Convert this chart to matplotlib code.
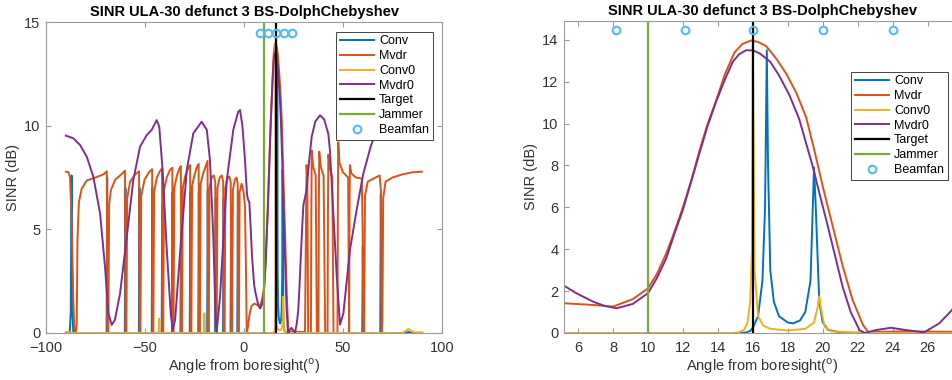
import matplotlib
matplotlib.use('Agg')
import matplotlib.pyplot as plt

# ---- data (angle in degrees, SINR in dB) ----
TITLE = 'SINR ULA-30 defunct 3 BS-DolphChebyshev'

CONV_X = [-90.0, -88.0, -87.5, -87.1, -86.7, -86.2,
          -69.4, -69.1, -68.8, -60.2, -59.9, -59.6, -53.1, -52.8, -52.5,
          -46.6, -46.3, -46.0, -41.6, -41.3, -41.0, -36.4, -36.1, -35.8,
          -32.1, -31.8, -31.5, -27.4, -27.1, -26.8, -23.1, -22.8, -22.5,
          -18.6, -18.3, -18.0, -14.6, -14.3, -14.0, -10.6, -10.3, -10.0,
          -6.8, -6.5, -6.2, -3.4, -3.1, -2.8,
          15.2, 15.6, 15.85, 16.0, 16.3, 16.55, 16.7, 16.8, 16.87, 17.0, 17.2, 17.5,
          18.0, 18.3, 18.7, 19.0, 19.3, 19.5, 19.6, 19.8, 20.0, 20.3, 21.0, 22.0,
          59.7, 60.0, 60.3, 68.8, 69.1, 69.4, 81.0, 83.0, 85.0, 90.0]
CONV_Y = [0.0, 0.05, 1.0, 7.6, 1.0, 0.0,
          0.0, 7.5, 0.0, 0.0, 7.0, 0.0, 0.0, 7.0, 0.0,
          0.0, 7.0, 0.0, 0.0, 6.2, 0.0, 0.0, 6.8, 0.0,
          0.0, 6.0, 0.0, 0.0, 6.8, 0.0, 0.0, 6.8, 0.0,
          0.0, 6.9, 0.0, 0.0, 6.5, 0.0, 0.0, 6.5, 0.0,
          0.0, 5.9, 0.0, 0.0, 5.7, 0.0,
          0.0, 0.02, 0.1, 0.25, 0.8, 2.5, 6.0, 13.5, 8.0, 3.0, 1.5, 0.8,
          0.5, 0.46, 0.6, 1.0, 2.5, 7.9, 6.0, 1.5, 0.5, 0.15, 0.03, 0.0,
          0.0, 4.2, 0.0, 0.0, 6.7, 0.0, 0.0, 0.05, 0.0, 0.0]

MVDR_X = [-90.0, -88.6, -87.9, -87.0, -86.2, -85.6, -85.0, -84.5, -84.1, -83.4, -82.0,
          -79.5, -75.0, -71.0, -69.3, -69.0, -68.5, -68.1, -67.2, -65.0, -62.0,
          -60.1, -59.8, -59.4, -59.0, -57.5, -55.0, -53.0, -52.7, -52.3, -51.9,
          -50.2, -48.0, -46.4, -46.2, -45.8, -45.4, -44.0, -42.5, -41.4, -41.2,
          -40.8, -40.4, -39.0, -37.5, -36.2, -36.0, -35.6, -35.2, -34.0, -32.8,
          -31.9, -31.7, -31.3, -30.9, -29.6, -28.2, -27.2, -27.0, -26.6, -26.2,
          -24.9, -23.8, -22.9, -22.7, -22.3, -21.9, -20.6, -19.3, -18.4, -18.2,
          -17.8, -17.4, -16.4, -15.3, -14.5, -14.2, -13.8, -13.4, -12.3, -11.2,
          -10.5, -10.2, -9.8, -9.4, -8.4, -7.4, -6.7, -6.4, -6.0, -5.6, -4.6,
          -3.7, -3.2, -3.0, -2.6, -2.2, -1.2, -0.2, 0.5, 1.0, 1.4, 2.0, 2.8,
          3.8, 5.2, 6.0, 6.86, 8.0, 9.14, 10.0, 10.5, 11.05, 11.5, 12.0, 12.5,
          12.95, 13.4, 13.9, 14.4, 14.95, 15.4, 15.9, 16.3, 16.76, 17.3, 17.9,
          18.5, 19.05, 19.5, 20.0, 20.6, 21.14, 21.7, 22.3, 22.6, 25.0, 28.0,
          30.8, 31.3, 31.6, 32.0, 32.4, 33.8, 34.0, 34.2, 35.0, 36.2, 36.8,
          37.6, 37.8, 38.0, 38.8, 40.2, 41.0, 42.2, 42.4, 42.6, 43.5, 44.6,
          45.2, 47.2, 47.4, 47.6, 48.2, 50.0, 52.6, 53.1, 53.3, 53.5, 54.2,
          56.5, 59.5, 59.9, 60.3, 60.7, 61.1, 62.5, 65.5, 68.5, 69.2, 69.5,
          69.9, 70.3, 71.5, 75.0, 80.0, 85.0, 89.8]
MVDR_Y = [7.78, 7.75, 7.5, 5.5, 1.5, 0.1, 0.0, 0.4, 4.5, 6.3, 6.95,
          7.35, 7.5, 7.65, 7.8, 0.0, 0.0, 6.2, 6.9, 7.4, 7.65,
          7.83, 0.0, 0.0, 6.5, 7.3, 7.65, 7.8, 0.0, 0.0, 6.6,
          7.4, 7.75, 7.9, 0.0, 0.0, 6.8, 7.5, 7.8, 7.94, 0.0,
          0.0, 6.9, 7.5, 7.85, 7.97, 0.0, 0.0, 7.0, 7.55, 7.9,
          8.05, 0.0, 0.0, 7.0, 7.6, 7.95, 8.1, 0.0, 0.0, 7.1,
          7.65, 8.0, 8.15, 0.0, 0.0, 7.2, 7.7, 8.05, 8.3, 0.0,
          0.0, 7.0, 7.5, 7.6, 7.3, 0.0, 0.0, 7.0, 7.5, 7.6,
          7.3, 0.0, 0.0, 7.0, 7.45, 7.55, 7.25, 0.0, 0.0, 6.9, 7.4,
          7.5, 7.2, 0.0, 0.0, 6.8, 7.2, 6.8, 6.1, 3.0, 0.0, 0.3, 0.9,
          1.3, 1.42, 1.38, 1.34, 1.26, 1.62, 2.13, 2.8, 3.8, 4.8, 6.0, 7.35,
          8.7, 9.95, 11.1, 12.35, 13.4, 13.8, 13.97, 13.9, 13.7, 13.15, 12.4,
          11.45, 10.3, 8.8, 7.0, 5.0, 3.2, 1.6, 0.38, 0.05, 0.08, 0.05,
          0.05, 5.0, 8.1, 7.2, 0.0, 0.0, 5.5, 8.8, 8.0, 7.6, 0.0,
          0.0, 6.0, 8.75, 8.0, 7.6, 0.0, 0.0, 5.8, 8.6, 7.9, 7.5,
          0.0, 0.0, 6.0, 9.2, 8.2, 7.75, 7.5, 0.0, 6.0, 8.1, 7.7,
          7.5, 7.45, 5.0, 0.0, 0.0, 6.6, 7.3, 7.45, 7.6, 6.8, 0.0,
          0.5, 6.5, 7.3, 7.5, 7.65, 7.75, 7.78]

CONV0_X = [-90.0, -88.0, -86.0, -43.2, -42.9, -42.6, -20.3, -20.0, -19.7,
           14.8, 15.2, 15.5, 15.7, 15.85, 15.95, 16.0, 16.1, 16.3, 16.6, 17.0,
           18.0, 19.0, 19.5, 19.7, 19.8, 19.9, 20.1, 20.5, 22.0, 24.0,
           80.0, 82.0, 83.0, 84.0, 86.0, 90.0]
CONV0_Y = [0.05, 0.03, 0.0, 0.0, 0.7, 0.0, 0.0, 0.95, 0.0,
           0.0, 0.03, 0.15, 0.5, 1.5, 4.0, 13.9, 3.0, 0.8, 0.35, 0.2,
           0.12, 0.2, 0.5, 1.2, 1.75, 1.2, 0.3, 0.08, 0.02, 0.0,
           0.0, 0.12, 0.2, 0.12, 0.03, 0.03]

MVDR0_X = [-90.0, -86.2, -82.8, -79.4, -76.1, -72.7, -70.2, -68.5, -66.8, -65.2,
           -62.6, -59.2, -55.9, -52.5, -49.1, -46.6, -44.1, -42.8, -41.1, -39.1,
           -37.0, -36.0, -34.8, -32.3, -28.9, -25.6, -21.4, -18.8, -17.2, -15.5,
           -14.3, -13.8, -12.1, -8.7, -5.4, -2.9, -2.0, -0.8, 0.5, 1.5, 2.0,
           2.7, 3.3, 4.0, 4.7, 5.2, 5.9, 6.86, 7.5, 8.2, 9.14, 10.0, 10.5,
           11.05, 11.5, 12.0, 12.5, 12.95, 13.4, 13.9, 14.4, 14.86, 15.2, 15.6,
           16.0, 16.4, 17.0, 17.5, 18.1, 18.66, 19.0, 19.43, 19.8, 20.2, 20.7,
           21.14, 21.6, 22.1, 22.4, 23.05, 23.9, 24.76, 25.8, 26.66, 27.4, 28.0,
           28.8, 29.5, 30.0, 31.6, 33.0, 34.2, 36.0, 38.4, 40.5, 42.6, 43.4,
           45.1, 46.8, 48.5, 50.2, 53.5, 57.0, 60.3, 64.0, 67.0, 72.0, 80.0, 90.0]
MVDR0_Y = [9.52, 9.39, 9.07, 8.5, 7.54, 5.77, 3.2, 0.95, 0.39, 0.63,
           1.9, 4.65, 7.38, 8.99, 9.55, 9.8, 10.27, 9.95, 7.86, 4.16,
           0.95, 0.14, 0.63, 3.84, 7.86, 9.63, 10.19, 9.8, 8.35, 4.65,
           0.63, 0.06, 1.75, 7.38, 9.8, 10.68, 10.75, 10.0, 8.35, 6.7, 6.45,
           6.3, 5.2, 3.8, 2.85, 2.26, 1.9, 1.5, 1.3, 1.18, 1.39, 1.9, 2.6,
           3.57, 4.7, 5.88, 7.3, 8.6, 9.85, 11.05, 12.1, 12.96, 13.3, 13.5,
           13.5, 13.35, 12.95, 12.3, 11.35, 10.2, 9.2, 7.95, 6.7, 5.4, 3.7,
           2.2, 1.0, 0.14, 0.0, 0.14, 0.25, 0.14, 0.03, 0.46, 1.1, 2.2,
           3.9, 5.3, 6.17, 6.9, 8.4, 9.47, 10.2, 10.5, 10.3, 9.6, 8.8,
           5.8, 2.8, 0.4, 0.95, 4.0, 6.0, 7.7, 9.0, 9.8, 11.0, 12.0, 11.5]

TARGET_ANGLE = 16.0
JAMMER_ANGLE = 10.0
BEAMFAN_X = [8.2, 12.1, 16.0, 20.0, 24.0]
BEAMFAN_Y = [14.45, 14.45, 14.45, 14.45, 14.45]

# ---- style ----
plt.rcParams.update({'font.family': ['Liberation Sans', 'DejaVu Sans'],
                     'font.size': 10, 'axes.linewidth': 0.8})
C_CONV, C_MVDR, C_CONV0, C_MVDR0 = '#0072BD', '#D95319', '#EDB120', '#7E2F8E'
C_JAM, C_FAN = '#77AC30', '#4DBEEE'
SPINE = '#9a9a9a'
TXT = '#333333'


def draw(ax, xlim, ylim, xticks, yticks, leg_anchor):
    ax.plot(CONV_X, CONV_Y, color=C_CONV, lw=1.4, label='Conv')
    ax.plot(MVDR_X, MVDR_Y, color=C_MVDR, lw=1.4, label='Mvdr')
    ax.plot(CONV0_X, CONV0_Y, color=C_CONV0, lw=1.4, label='Conv0')
    ax.plot(MVDR0_X, MVDR0_Y, color=C_MVDR0, lw=1.4, label='Mvdr0')
    ax.axvline(TARGET_ANGLE, color='black', lw=1.6, label='Target')
    ax.axvline(JAMMER_ANGLE, color=C_JAM, lw=1.6, label='Jammer')
    ax.plot(BEAMFAN_X, BEAMFAN_Y, 'o', ls='none', mfc='none', mec=C_FAN,
            ms=5.5, mew=1.5, label='Beamfan')
    ax.set_xlim(*xlim); ax.set_ylim(*ylim)
    ax.set_xticks(xticks); ax.set_yticks(yticks)
    ax.tick_params(direction='in', top=True, right=True, length=3.5,
                   color=SPINE, labelcolor=TXT, labelsize=10.5)
    ax.tick_params(axis='x', pad=6)
    ax.tick_params(axis='y', pad=4)
    for s in ax.spines.values():
        s.set_color(SPINE)
    ax.set_title(TITLE, fontsize=10.5, fontweight='bold', pad=4)
    ax.set_xlabel('Angle from boresight($^{\\rm o}$)', color=TXT, fontsize=10.5, labelpad=1)
    ax.set_ylabel('SINR (dB)', color=TXT, fontsize=10.5, labelpad=3)
    leg = ax.legend(loc='upper right', bbox_to_anchor=leg_anchor, fontsize=9,
                    fancybox=False, framealpha=1, edgecolor='#262626',
                    handlelength=2.7, handletextpad=0.4, labelspacing=0.22,
                    borderpad=0.3, borderaxespad=0, markerscale=1.0)
    leg.get_frame().set_linewidth(0.6)


fig = plt.figure(figsize=(9.52, 3.8), dpi=100)
ax1 = fig.add_axes([46/952, 47/380, 396/952, 311/380])
ax2 = fig.add_axes([564/952, 47/380, 396/952, 312/380])

draw(ax1, (-100, 100), (0, 15), [-100, -50, 0, 50, 100], [0, 5, 10, 15], (0.9765, 0.969))
draw(ax2, (5.2, 27.85), (0, 14.9), list(range(6, 27, 2)), list(range(0, 15, 2)), (0.969, 0.8375))

fig.savefig('out.png', dpi=100)
